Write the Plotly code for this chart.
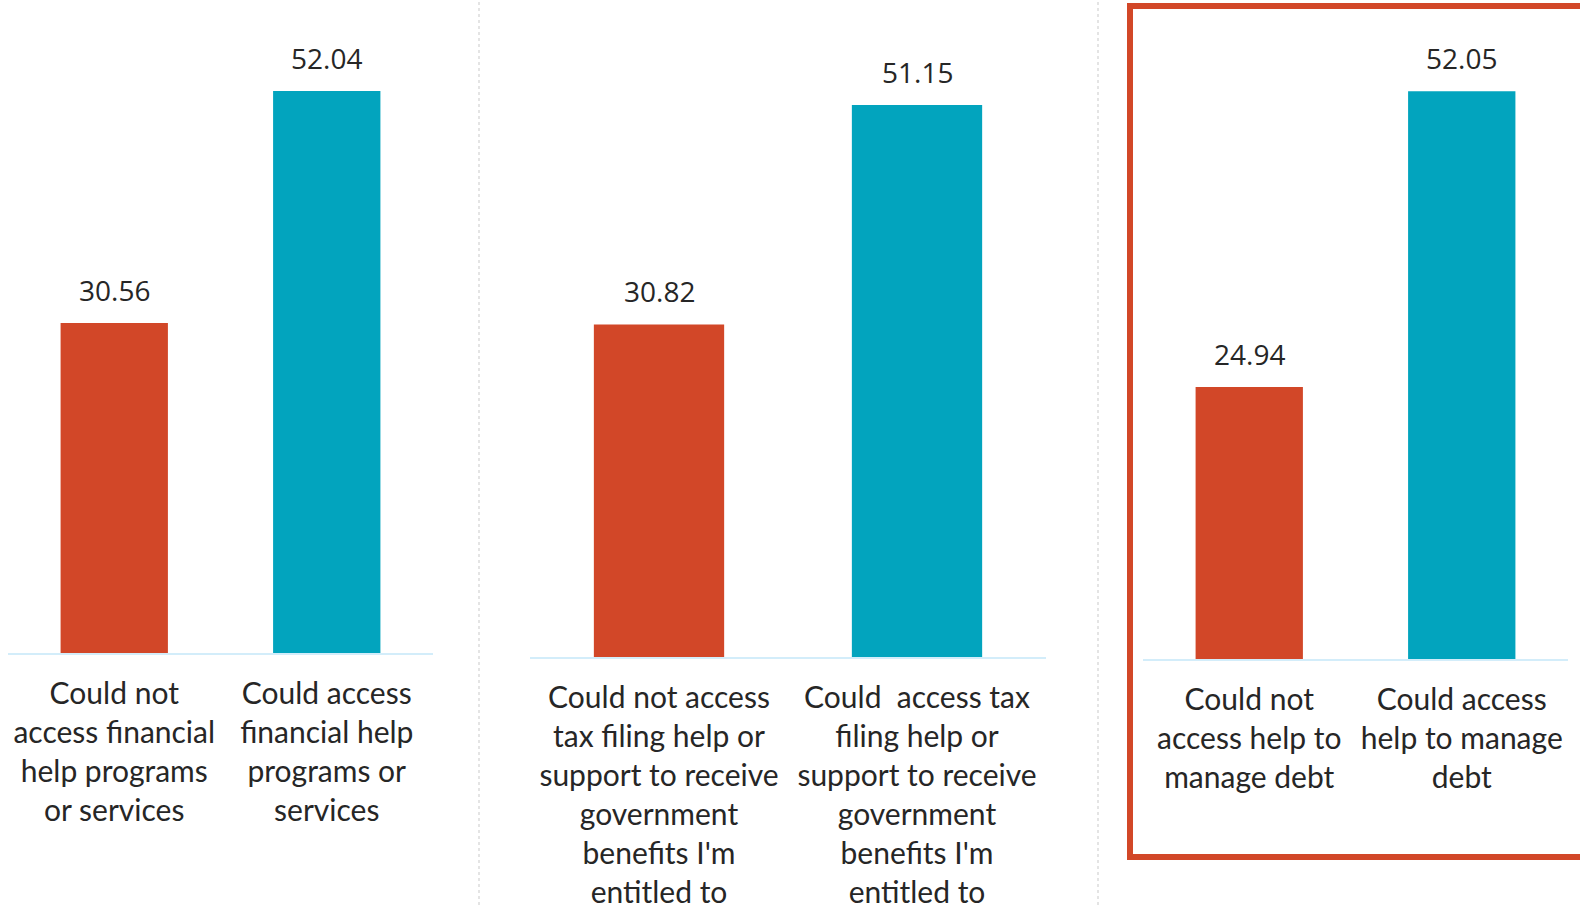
import plotly.graph_objects as go

# Survey results: share of respondents in each access group, per type of help
panel_categories = [
    ["Could not<br>access financial<br>help programs<br>or services",
     "Could access<br>financial help<br>programs or<br>services"],
    ["Could not access<br>tax filing help or<br>support to receive<br>government<br>benefits I'm<br>entitled to",
     "Could  access tax<br>filing help or<br>support to receive<br>government<br>benefits I'm<br>entitled to"],
    ["Could not<br>access help to<br>manage debt",
     "Could access<br>help to manage<br>debt"],
]
panel_values = [
    [30.56, 52.04],
    [30.82, 51.15],
    [24.94, 52.05],
]
bar_colors = ["#D24728", "#02A4BE"]

W, H = 1580, 910
# pixel layout of each panel: x extent of axis, baseline y, px per unit
panel_x = [(8, 433), (530, 1046), (1143, 1568)]
panel_base = [653, 657, 659]
panel_scale = [10.8, 10.79, 10.91]

fig = go.Figure()
layout = {}
annotations = []
for i in range(3):
    n = "" if i == 0 else str(i + 1)
    xa, ya = "x" + n, "y" + n
    fig.add_trace(go.Bar(
        x=panel_categories[i], y=panel_values[i],
        marker=dict(color=bar_colors, line=dict(width=0)),
        width=0.505, xaxis=xa, yaxis=ya, showlegend=False,
        hoverinfo="skip",
    ))
    x0, x1 = panel_x[i]
    base = panel_base[i]
    layout["xaxis" + n] = dict(
        domain=[x0 / W, x1 / W], anchor=ya, type="category",
        range=[-0.5, 1.5], showline=True, linecolor="#D3EDFA", linewidth=2,
        showgrid=False, zeroline=False, ticks="outside", ticklen=13,
        tickcolor="rgba(0,0,0,0)",
        tickfont=dict(family="Lato", size=30, color="#262626"),
        fixedrange=True,
    )
    layout["yaxis" + n] = dict(
        domain=[(H - base) / H, 1], anchor=xa,
        range=[0, base / panel_scale[i]], visible=False, fixedrange=True,
    )
    for cat, val in zip(panel_categories[i], panel_values[i]):
        annotations.append(dict(
            x=cat, y=val, xref=xa, yref=ya, text=f"{val:.2f}",
            showarrow=False, yanchor="middle", yshift=33,
            font=dict(family="Open Sans", size=28, color="#262626"),
        ))

shapes = [
    # dotted separators between panels
    dict(type="line", xref="paper", yref="paper", x0=479 / W, x1=479 / W,
         y0=(H - 905) / H, y1=1, line=dict(color="#DCDCDC", width=1.5, dash="dot")),
    dict(type="line", xref="paper", yref="paper", x0=1098 / W, x1=1098 / W,
         y0=(H - 905) / H, y1=1, line=dict(color="#DCDCDC", width=1.5, dash="dot")),
    # highlight frame around the debt panel
    dict(type="rect", xref="paper", yref="paper", x0=1130 / W, x1=1600 / W,
         y0=(H - 857) / H, y1=(H - 6) / H,
         line=dict(color="#D24728", width=6), fillcolor="rgba(0,0,0,0)"),
]

fig.update_layout(
    width=W, height=H, margin=dict(l=0, r=0, t=0, b=0),
    paper_bgcolor="white", plot_bgcolor="white",
    bargap=0.5, annotations=annotations, shapes=shapes, **layout,
)

fig.write_html("out.html", config={"displayModeBar": False})
